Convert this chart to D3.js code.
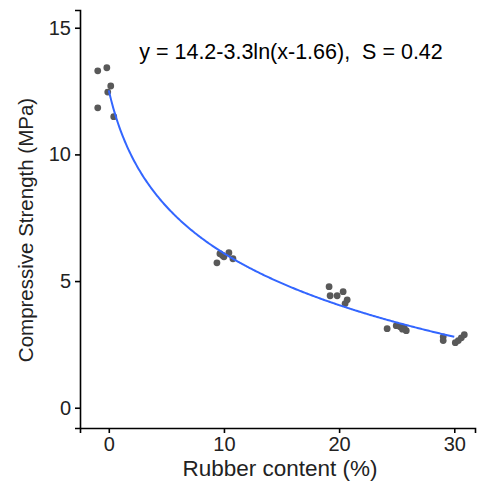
<!DOCTYPE html>
<html>
<head>
<meta charset="utf-8">
<title>Compressive strength vs rubber content</title>
<script src="https://cdn.jsdelivr.net/npm/d3@7"></script>
<style>
  body { margin: 0; background: #fff; }
  text { font-family: "Liberation Sans", Arial, Helvetica, sans-serif; }
</style>
</head>
<body>
<script>
// measured points (jittered around 0, 10, 20, 25, 30 %)
const rubber = [-0.96, -0.17, 0.17, -0.09, -0.96, 0.43,
                9.39, 9.65, 9.85, 10.0, 10.43, 10.78,
                19.13, 19.22, 19.83, 20.35, 20.7, 20.52,
                24.17, 24.96, 25.3, 25.65, 25.83, 25.5,
                29.04, 29.04, 30.09, 30.35, 30.61, 30.87];
const strength = [13.3, 13.42, 12.7, 12.46, 11.84, 11.49,
                  5.72, 6.08, 6.02, 5.96, 6.12, 5.88,
                  4.78, 4.42, 4.42, 4.58, 4.26, 4.11,
                  3.12, 3.24, 3.2, 3.16, 3.04, 3.1,
                  2.8, 2.65, 2.57, 2.65, 2.76, 2.88];

// fitted curve y = a - b*ln(x + c)
const fitA = 14.2, fitB = 3.3, fitC = 1.66;
const fitRange = [0, 30];

const xTicks = [0, 10, 20, 30];
const yTicks = [0, 5, 10, 15];
const label = "y = 14.2-3.3ln(x-1.66),  S = 0.42";

const width = 477, height = 482;

const svg = d3.select("body").append("svg")
    .attr("width", width)
    .attr("height", height);

const x = d3.scaleLinear().domain([-2.5, 31.8]).range([80, 475]);
const y = d3.scaleLinear().domain([-0.8, 15.7]).range([428, 10]);

// points
svg.append("g")
  .selectAll("circle")
  .data(rubber)
  .join("circle")
    .attr("cx", d => x(d))
    .attr("cy", (d, i) => y(strength[i]))
    .attr("r", 3.4)
    .attr("fill", "#595959");

// fit line
const curve = d3.range(fitRange[0], fitRange[1] + 0.001, 0.1);
const line = d3.line()
    .x(d => x(d))
    .y(d => y(fitA - fitB * Math.log(d + fitC)));

svg.append("path")
    .datum(curve)
    .attr("d", line)
    .attr("fill", "none")
    .attr("stroke", "#3366FF")
    .attr("stroke-width", 2);

// axes
const xAxis = svg.append("g")
    .attr("transform", "translate(0,428)")
    .call(d3.axisBottom(x).tickValues(xTicks).tickSize(5).tickPadding(4));
const yAxis = svg.append("g")
    .attr("transform", "translate(80,0)")
    .call(d3.axisLeft(y).tickValues(yTicks).tickSize(5).tickPadding(4));

[xAxis, yAxis].forEach(g => {
  g.select(".domain").attr("stroke", "#000").attr("stroke-width", 1.6);
  g.selectAll(".tick line").attr("stroke", "#000").attr("stroke-width", 1.6);
  g.selectAll(".tick text").attr("fill", "#222").attr("font-size", 20)
    .attr("font-family", "Liberation Sans, Arial, sans-serif");
});

svg.append("text")
    .attr("x", 280)
    .attr("y", 476)
    .attr("text-anchor", "middle")
    .attr("font-size", 22.5)
    .attr("fill", "#222")
    .text("Rubber content (%)");

svg.append("text")
    .attr("transform", "translate(33,230) rotate(-90)")
    .attr("text-anchor", "middle")
    .attr("font-size", 20.5)
    .attr("fill", "#222")
    .text("Compressive Strength (MPa)");

svg.append("text")
    .attr("x", 291)
    .attr("y", 59)
    .attr("text-anchor", "middle")
    .attr("font-size", 21.5)
    .attr("fill", "#000")
    .style("white-space", "pre")
    .text(label);
</script>
</body>
</html>
